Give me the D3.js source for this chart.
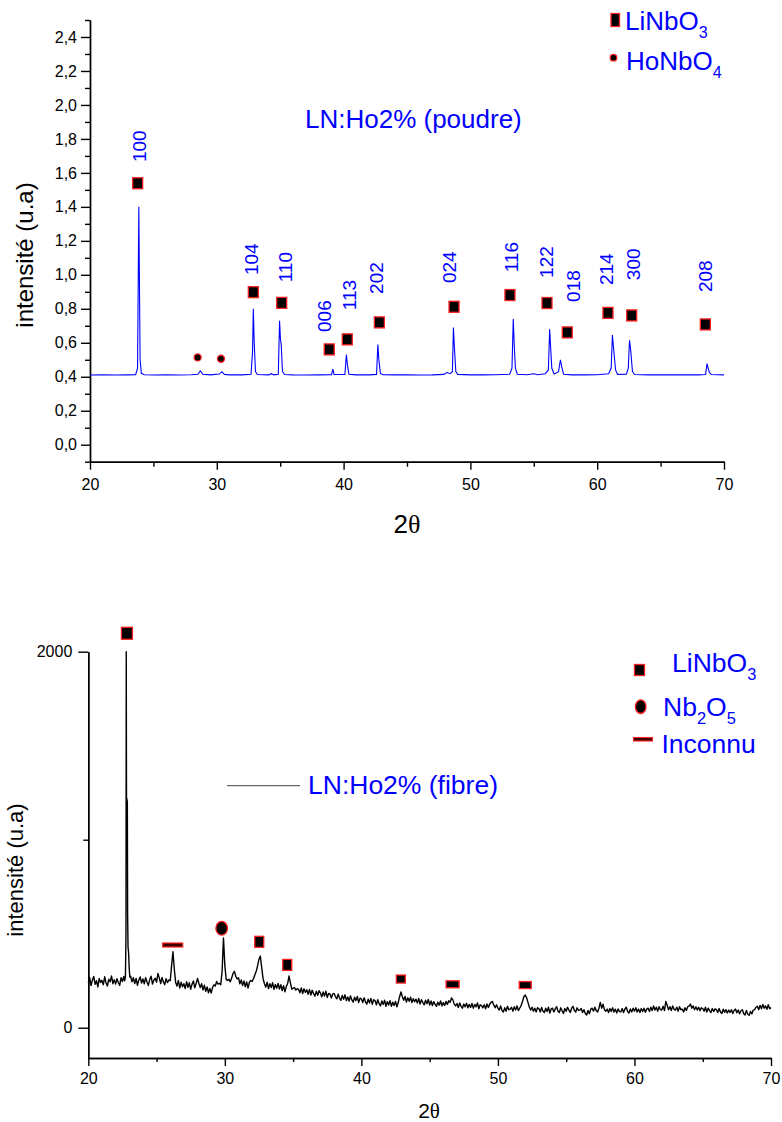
<!DOCTYPE html>
<html><head><meta charset="utf-8">
<script src="https://cdn.jsdelivr.net/npm/d3@7"></script>
<style>
html,body{margin:0;padding:0;background:#fff;}
svg text{font-family:"Liberation Sans",Arial,sans-serif;}
</style></head>
<body>
<svg id="c" width="782" height="1122"></svg>
<script>
// ---------- Top chart: LN:Ho2% (poudre) ----------
const powderX = [20,21,22,23,23.6,23.75,23.85,23.95,24.05,24.3,25,26,27,28,28.5,28.7,28.9,29.5,30.2,30.4,30.6,31,32,32.7,32.82,32.88,32.95,33.05,33.2,34.1,34.3,34.5,34.85,34.95,35.02,35.08,35.18,35.35,36,37,38,39.05,39.15,39.25,40.1,40.22,40.3,40.42,41,42,42.6,42.7,42.78,42.9,43.1,44,45,46,47,47.9,48.15,48.4,48.58,48.66,48.74,48.85,49,50,51,52,53.1,53.28,53.38,53.46,53.55,53.7,54.5,55,55.3,55.9,56.15,56.25,56.33,56.42,56.6,56.95,57.1,57.2,57.35,58,59,60,60.9,61.1,61.2,61.3,61.45,61.6,62.3,62.45,62.55,62.65,62.78,62.95,64,66,68,68.55,68.66,68.75,68.85,69,70];
const powderY = [0.410,0.411,0.410,0.411,0.412,0.45,1.40,0.50,0.42,0.412,0.410,0.411,0.410,0.412,0.415,0.435,0.415,0.411,0.416,0.430,0.414,0.411,0.411,0.415,0.55,0.80,0.60,0.43,0.413,0.411,0.418,0.411,0.415,0.73,0.62,0.59,0.43,0.413,0.411,0.410,0.411,0.412,0.445,0.413,0.413,0.53,0.47,0.415,0.411,0.411,0.414,0.59,0.50,0.42,0.412,0.411,0.411,0.410,0.411,0.414,0.425,0.418,0.43,0.69,0.57,0.43,0.414,0.411,0.411,0.412,0.415,0.45,0.74,0.58,0.45,0.415,0.412,0.418,0.412,0.418,0.44,0.68,0.57,0.45,0.417,0.43,0.50,0.46,0.415,0.411,0.411,0.412,0.418,0.45,0.645,0.56,0.44,0.414,0.415,0.45,0.615,0.55,0.43,0.413,0.411,0.411,0.411,0.413,0.478,0.45,0.425,0.413,0.411];

const lnX = [23.76,32.88,35.12,38.87,40.29,42.82,48.71,53.12,56.04,57.64,60.85,62.72,68.53];
const lnY = [1.539,0.898,0.835,0.561,0.62,0.72,0.812,0.881,0.834,0.661,0.776,0.761,0.708];
const hoX = [28.49,30.33];
const hoY = [0.514,0.506];
const hklLabels = ["100","104","110","006","113","202","024","116","122","018","214","300","208"];
const hklX = [23.94,32.75,35.38,38.53,40.50,42.61,48.39,53.26,56.02,58.12,60.75,62.85,68.58];
const hklY = [1.757,1.092,1.045,0.757,0.881,0.981,1.045,1.104,1.075,0.934,1.033,1.062,0.992];
const topYTicks = [0,0.2,0.4,0.6,0.8,1.0,1.2,1.4,1.6,1.8,2.0,2.2,2.4];
const topYMinor = [-0.1,0.1,0.3,0.5,0.7,0.9,1.1,1.3,1.5,1.7,1.9,2.1,2.3,2.5];
const xTicks = [20,30,40,50,60,70];
const xMinor = [25,35,45,55,65];

// ---------- Bottom chart: LN:Ho2% (fibre) ----------
const fibreStart = 20, fibreStep = 0.1;
const fibreCounts = [
238,266,224,254,273,231,250,217,262,241,
252,229,271,238,222,258,244,276,234,256,
232,261,241,225,266,246,273,255,400,430,
300,274,244,266,235,262,226,254,270,238,
259,234,266,243,225,257,274,232,253,263,
242,289,265,235,267,244,229,261,240,254,
250,330,404,310,240,221,252,211,242,218,
234,208,245,215,239,204,232,249,212,236,
262,236,214,234,201,226,194,217,186,209,
184,214,228,222,246,232,236,229,300,477,
330,256,252,258,244,264,289,300,274,259,
266,234,254,224,249,218,244,211,242,251,
246,261,282,300,330,365,381,320,261,234,
216,242,208,234,214,239,204,230,210,236,
206,229,198,224,191,219,235,275,240,206,
209,214,200,208,204,186,212,182,207,188,
202,178,204,174,199,181,168,194,172,197,
184,164,190,168,194,161,182,180,158,179,
182,166,154,179,158,146,172,151,175,144,
164,142,169,148,136,162,144,166,134,157,
154,134,159,138,126,152,132,156,124,149,
144,122,149,128,116,142,124,146,114,139,
121,144,114,136,118,140,111,134,165,190,
165,146,166,136,159,141,162,134,154,138,
152,131,156,126,149,134,122,146,128,150,
121,142,118,139,124,114,136,120,142,116,
134,118,140,124,144,135,158,148,126,116,
129,108,132,114,104,126,111,130,106,124,
108,129,104,124,111,132,101,122,118,106,
122,101,126,108,125,135,140,120,106,122,
104,94,116,91,84,106,88,114,96,99,
109,88,112,94,116,91,105,118,140,165,
174,160,135,110,94,109,88,104,84,106,
102,84,108,88,81,104,86,109,78,100,
104,84,100,112,88,81,106,90,76,102,
88,109,94,81,104,114,91,84,106,92,
94,102,81,96,76,68,92,74,99,104,
88,109,91,84,104,135,104,125,96,88,
99,81,102,86,106,84,99,78,100,86,
84,102,81,99,109,86,78,100,84,104,
88,106,84,99,81,102,86,104,82,99,
104,86,109,91,116,94,109,88,112,96,
94,114,91,140,119,96,112,92,116,98,
94,109,88,112,96,99,84,106,92,112,
115,126,104,116,96,112,94,109,91,106,
102,88,109,84,104,91,81,102,86,100,
96,81,102,84,76,99,82,96,78,94,
81,96,76,92,99,80,94,74,90,96,
76,68,92,72,66,86,74,94,96,109,
114,96,119,101,124,104,116,98,122,101,
108];
// main (100) reflection sampled finely
const mainPeakX = [22.66,22.72,22.76,22.78,22.80,22.82,22.86,22.88,22.91,22.95,23.00,23.04];
const mainPeakY = [250,270,500,2000,1100,1220,1200,600,430,400,310,270];
const mainPeakRange = [22.65,23.05];

const fLnX = [22.83,32.52,34.57,42.89,46.68,52.0];
const fLnY = [2098,457,334,259,231,227];
const fLnW = [11,9,9,9,13,12];
const fLnH = [12,11,11,8,7,7];
const fNbX = [29.77];
const fNbY = [529];
const fUnkX = [26.18];
const fUnkY = [440];
const botYTicks = [0,2000];
const botYMinor = [1000];

// ---------------- drawing ----------------
const svg = d3.select("#c");
const BLUE = "#0000ff";

function subText(g, x, y, size, parts, color) {
  const t = g.append("text").attr("x", x).attr("y", y).attr("font-size", size).attr("fill", color);
  parts.forEach(p => {
    if (p.sub) t.append("tspan").attr("font-size", size * 0.62).attr("dy", size * 0.3).text(p.t);
    else if (p.after) t.append("tspan").attr("dy", -size * 0.3).text(p.t);
    else t.append("tspan").text(p.t);
  });
  return t;
}

// ===== Top =====
const x1 = d3.scaleLinear().domain([20,70]).range([90,724]);
const y1 = d3.scaleLinear().domain([-0.1,2.5]).range([461.7,20]);
const topG = svg.append("g");
const comma = d => d3.format(".1f")(d).replace(".", ",");

const axStyle = g => { g.selectAll("path,line").attr("stroke","#000").attr("stroke-width",1.4); g.selectAll("text").attr("fill","#000").attr("font-family","Liberation Sans, Arial, sans-serif"); };

topG.append("g").attr("transform","translate(0,461.7)")
  .call(d3.axisBottom(x1).tickValues(xMinor).tickSize(5).tickSizeOuter(0).tickFormat("")).call(axStyle);
topG.append("g").attr("transform","translate(0,461.7)")
  .call(d3.axisBottom(x1).tickValues(xTicks).tickSize(8).tickPadding(9).tickSizeOuter(0))
  .call(axStyle).call(g => g.selectAll("text").attr("font-size",16));
topG.append("g").attr("transform","translate(90,0)")
  .call(d3.axisLeft(y1).tickValues(topYMinor).tickSize(5).tickSizeOuter(0).tickFormat("")).call(axStyle);
topG.append("g").attr("transform","translate(90,0)")
  .call(d3.axisLeft(y1).tickValues(topYTicks).tickSize(9).tickPadding(4).tickSizeOuter(0).tickFormat(comma))
  .call(axStyle).call(g => g.selectAll("text").attr("font-size",16));

const powder = powderX.map((x,i)=>[x,powderY[i]]);
topG.append("path").datum(powder)
  .attr("d", d3.line().x(d=>x1(d[0])).y(d=>y1(d[1])))
  .attr("fill","none").attr("stroke",BLUE).attr("stroke-width",1.1);

topG.selectAll("rect.ln").data(lnX).join("rect")
  .attr("x",(d,i)=>x1(d)-5).attr("y",(d,i)=>y1(lnY[i])-5.5).attr("width",10).attr("height",11)
  .attr("fill","#000").attr("stroke","#ff2020").attr("stroke-width",1.3);
topG.selectAll("circle.ho").data(hoX).join("circle")
  .attr("cx",d=>x1(d)).attr("cy",(d,i)=>y1(hoY[i])).attr("r",3.5)
  .attr("fill","#000").attr("stroke","#ff2020").attr("stroke-width",1.3);
topG.selectAll("text.hkl").data(hklLabels).join("text")
  .attr("transform",(d,i)=>`translate(${x1(hklX[i])},${y1(hklY[i])}) rotate(-90)`)
  .attr("text-anchor","middle").attr("dominant-baseline","central")
  .attr("font-size",19).attr("fill",BLUE).text(d=>d);

topG.append("text").attr("x",305).attr("y",127.5).attr("font-size",26).attr("fill",BLUE).text("LN:Ho2% (poudre)");
topG.append("text").attr("transform","translate(33,255) rotate(-90)").attr("text-anchor","middle")
  .attr("font-size",24).attr("fill","#000").text("intensité (u.a)");
const t2a = topG.append("text").attr("x",407).attr("y",533).attr("text-anchor","middle").attr("font-size",26).attr("fill","#000");
t2a.append("tspan").text("2"); t2a.append("tspan").attr("font-family","Liberation Serif, serif").text("θ");

// top legend
topG.append("rect").attr("x",611).attr("y",13.5).attr("width",8.5).attr("height",13).attr("fill","#000").attr("stroke","#ff2020").attr("stroke-width",1.3);
subText(topG, 625, 30, 26, [{t:"LiNbO"},{t:"3",sub:true}], BLUE);
topG.append("circle").attr("cx",613.5).attr("cy",57.7).attr("r",3.3).attr("fill","#000").attr("stroke","#ff2020").attr("stroke-width",1.2);
subText(topG, 626, 70, 26, [{t:"HoNbO"},{t:"4",sub:true}], BLUE);

// ===== Bottom =====
const x2 = d3.scaleLinear().domain([20,70]).range([88.3,771]);
const y2 = d3.scaleLinear().domain([-161,2000]).range([1058,651.7]);
const botG = svg.append("g");

botG.append("g").attr("transform","translate(0,1058)")
  .call(d3.axisBottom(x2).tickValues(xMinor).tickSize(4).tickSizeOuter(0).tickFormat("")).call(axStyle);
botG.append("g").attr("transform","translate(0,1058)")
  .call(d3.axisBottom(x2).tickValues(xTicks).tickSize(8).tickPadding(7).tickSizeOuter(0))
  .call(axStyle).call(g => g.selectAll("text").attr("font-size",16));
botG.append("g").attr("transform","translate(88.3,0)")
  .call(d3.axisLeft(y2).tickValues(botYMinor).tickSize(5).tickSizeOuter(0).tickFormat("")).call(axStyle);
botG.append("g").attr("transform","translate(88.3,0)")
  .call(d3.axisLeft(y2).tickValues(botYTicks).tickSize(10).tickPadding(6).tickSizeOuter(0).tickFormat(d3.format("d")))
  .call(axStyle).call(g => g.selectAll("text").attr("font-size",16));

const fibreBg = fibreCounts.map((c,i)=>[+(fibreStart + i*fibreStep).toFixed(2), c])
  .filter(p => !(p[0] > mainPeakRange[0] && p[0] < mainPeakRange[1]));
const fibre = fibreBg.concat(mainPeakX.map((x,i)=>[x, mainPeakY[i]])).sort((a,b)=>a[0]-b[0]);
botG.append("path").datum(fibre)
  .attr("d", d3.line().x(d=>x2(d[0])).y(d=>y2(d[1])))
  .attr("fill","none").attr("stroke","#000").attr("stroke-width",1.4).attr("stroke-linejoin","round");

botG.selectAll("rect.fln").data(fLnX).join("rect")
  .attr("x",(d,i)=>x2(d)-fLnW[i]/2).attr("y",(d,i)=>y2(fLnY[i])-fLnH[i]/2)
  .attr("width",(d,i)=>fLnW[i]).attr("height",(d,i)=>fLnH[i])
  .attr("fill","#000").attr("stroke","#ff2020").attr("stroke-width",1.3);
botG.selectAll("ellipse.fnb").data(fNbX).join("ellipse")
  .attr("cx",d=>x2(d)).attr("cy",(d,i)=>y2(fNbY[i])).attr("rx",5.8).attr("ry",6.8)
  .attr("fill","#000").attr("stroke","#ff2020").attr("stroke-width",1.3);
botG.selectAll("rect.unk").data(fUnkX).join("rect")
  .attr("x",d=>x2(d)-10).attr("y",(d,i)=>y2(fUnkY[i])-2).attr("width",20).attr("height",4)
  .attr("fill","#3a0000").attr("stroke","#ff2020").attr("stroke-width",1.2);

// in-plot legend line + title
botG.append("line").attr("x1",227).attr("x2",300).attr("y1",785.7).attr("y2",785.7).attr("stroke","#444").attr("stroke-width",1);
botG.append("text").attr("x",308).attr("y",794).attr("font-size",26.5).attr("fill",BLUE).text("LN:Ho2% (fibre)");

botG.append("text").attr("transform","translate(23,870) rotate(-90)").attr("text-anchor","middle")
  .attr("font-size",22).attr("fill","#000").text("intensité (u.a)");
const t2b = botG.append("text").attr("x",429).attr("y",1118).attr("text-anchor","middle").attr("font-size",21).attr("fill","#000");
t2b.append("tspan").text("2"); t2b.append("tspan").attr("font-family","Liberation Serif, serif").text("θ");

// bottom legend
botG.append("rect").attr("x",634.5).attr("y",664.5).attr("width",10).attr("height",11).attr("fill","#000").attr("stroke","#ff2020").attr("stroke-width",1.3);
subText(botG, 672, 672, 26.5, [{t:"LiNbO"},{t:"3",sub:true}], BLUE);
botG.append("ellipse").attr("cx",640.7).attr("cy",706.7).attr("rx",5.3).attr("ry",6.8).attr("fill","#000").attr("stroke","#ff2020").attr("stroke-width",1.3);
subText(botG, 663, 716, 26.5, [{t:"Nb"},{t:"2",sub:true},{t:"O",after:true},{t:"5",sub:true}], BLUE);
botG.append("rect").attr("x",633.5).attr("y",737.5).attr("width",19).attr("height",3.5).attr("fill","#3a0000").attr("stroke","#ff2020").attr("stroke-width",1.1);
botG.append("text").attr("x",661.5).attr("y",752.7).attr("font-size",26.5).attr("fill",BLUE).text("Inconnu");
</script>
</body></html>
